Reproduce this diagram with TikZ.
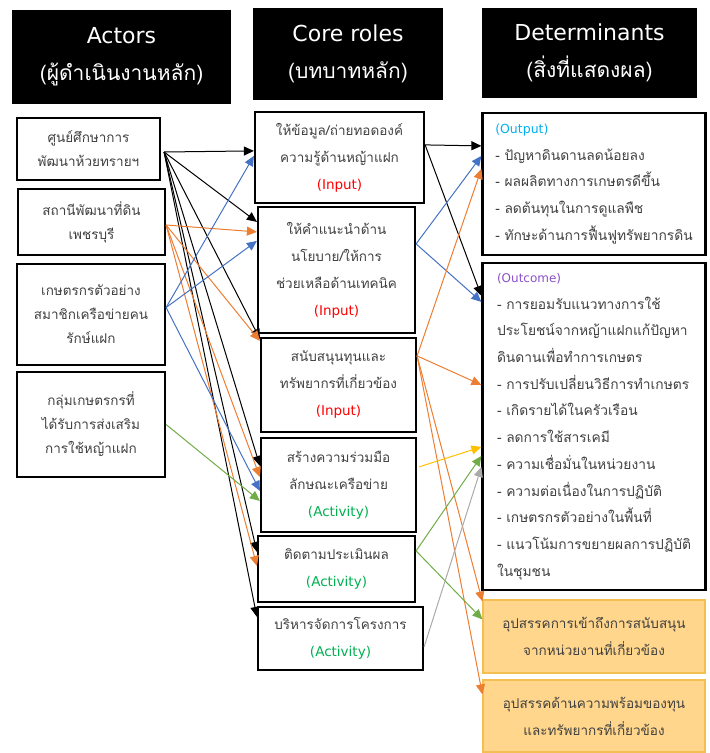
\documentclass[tikz,border=0pt]{standalone}
\usepackage{fontspec}
\setmainfont[Script=Thai]{Loma}
\newfontfamily\latin{DejaVu Sans}
\usetikzlibrary{arrows.meta}
\definecolor{txt}{RGB}{64,64,64}
\definecolor{cin}{RGB}{255,0,0}
\definecolor{cact}{RGB}{0,176,80}
\definecolor{cout}{RGB}{0,176,240}
\definecolor{cocm}{RGB}{140,80,200}
\definecolor{corg}{RGB}{237,125,49}
\definecolor{cblu}{RGB}{68,114,196}
\definecolor{cgrn}{RGB}{112,173,71}
\definecolor{cyel}{RGB}{255,192,0}
\definecolor{cgry}{RGB}{170,170,170}
\definecolor{obfill}{RGB}{255,214,140}
\definecolor{obdraw}{RGB}{245,190,80}
\newcommand{\lin}[2]{{\latin\fontsize{#1}{27}\selectfont #2}}
\tikzset{
  wh/.style 2 args={minimum width=#1pt, minimum height=#2pt},
  hdr/.style={fill=black, text=white, inner sep=0pt, align=center,
    font=\fontsize{21}{37}\selectfont},
  abox/.style={draw=black, line width=2.2pt, inner sep=0pt, align=center, text=txt,
    font=\fontsize{13.5}{24}\selectfont},
  cbox/.style={draw=black, line width=2.2pt, inner sep=0pt, align=center, text=txt,
    font=\fontsize{13.5}{27}\selectfont},
  dbox/.style={draw=black, line width=2.2pt, inner sep=0pt, align=left, text=txt,
    font=\fontsize{13.8}{26.7}\selectfont},
  obox/.style={draw=obdraw, fill=obfill, line width=1.2pt, inner sep=0pt, align=center,
    text=txt, font=\fontsize{13.5}{27}\selectfont},
  conn/.style={line width=1pt, -{Triangle[length=10pt,width=9pt]}},
}
\begin{document}
\begin{tikzpicture}[x=1pt,y=-1pt]
\useasboundingbox (0,0) rectangle (710,753);
% headers
\node[hdr, wh={219}{94}] (H1) at (121.5,57) {\lin{22}{Actors}\\(ผู้ดำเนินงานหลัก)};
\node[hdr, wh={190}{92}] (H2) at (348,54) {\lin{22}{Core roles}\\(บทบาทหลัก)};
\node[hdr, wh={215}{90}] (H3) at (589.5,53) {\lin{22}{Determinants}\\(สิ่งที่แสดงผล)};
% actors
\node[abox, wh={143}{62}] (A1) at (88.5,149) {ศูนย์ศึกษาการ\\พัฒนาห้วยทรายฯ};
\node[abox, wh={147}{66}] (A2) at (91.5,222) {สถานีพัฒนาที่ดิน\\เพชรบุรี};
\node[abox, wh={148}{101}] (A3) at (91,314.5) {เกษตรกรตัวอย่าง\\สมาชิกเครือข่ายคน\\รักษ์แฝก};
\node[abox, wh={148}{105}] (A4) at (91,424.5) {กลุ่มเกษตรกรที่\\ได้รับการส่งเสริม\\การใช้หญ้าแฝก};
% core roles
\node[cbox, wh={169}{91}] (C1) at (339.5,157.5) {ให้ข้อมูล/ถ่ายทอดองค์\\ความรู้ด้านหญ้าแฝก\\\textcolor{cin}{\lin{13.5}{(Input)}}};
\node[cbox, wh={157}{126}] (C2) at (336.5,270) {ให้คำแนะนำด้าน\\นโยบาย/ให้การ\\ช่วยเหลือด้านเทคนิค\\\textcolor{cin}{\lin{13.5}{(Input)}}};
\node[cbox, wh={155}{94}] (C3) at (338.5,385) {สนับสนุนทุนและ\\ทรัพยากรที่เกี่ยวข้อง\\\textcolor{cin}{\lin{13.5}{(Input)}}};
\node[cbox, wh={155}{94}] (C4) at (338.5,485) {สร้างความร่วมมือ\\ลักษณะเครือข่าย\\\textcolor{cact}{\lin{13.5}{(Activity)}}};
\node[cbox, wh={157}{66}] (C5) at (336.5,569) {ติดตามประเมินผล\\\textcolor{cact}{\lin{13.5}{(Activity)}}};
\node[cbox, wh={165}{63}] (C6) at (340.5,638.5) {บริหารจัดการโครงการ\\\textcolor{cact}{\lin{13.5}{(Activity)}}};
% determinants
\node[dbox, wh={223}{142}] (D1) at (594,184) {\textcolor{cout}{\lin{12.5}{(Output)}}\\- ปัญหาดินดานลดน้อยลง\\- ผลผลิตทางการเกษตรดีขึ้น\\- ลดต้นทุนในการดูแลพืช\\- ทักษะด้านการฟื้นฟูทรัพยากรดิน};
\node[dbox, wh={223}{327}] (D2) at (594,426.5) {\textcolor{cocm}{\lin{12}{(Outcome)}}\\- การยอมรับแนวทางการใช้\\ประโยชน์จากหญ้าแฝกแก้ปัญหา\\ดินดานเพื่อทำการเกษตร\\- การปรับเปลี่ยนวิธีการทำเกษตร\\- เกิดรายได้ในครัวเรือน\\- ลดการใช้สารเคมี\\- ความเชื่อมั่นในหน่วยงาน\\- ความต่อเนื่องในการปฏิบัติ\\- เกษตรกรตัวอย่างในพื้นที่\\- แนวโน้มการขยายผลการปฏิบัติ\\ในชุมชน};
\node[obox, wh={222}{73}] (D3) at (594,636.5) {อุปสรรคการเข้าถึงการสนับสนุน\\จากหน่วยงานที่เกี่ยวข้อง};
\node[obox, wh={222}{72}] (D4) at (594,716) {อุปสรรคด้านความพร้อมของทุน\\และทรัพยากรที่เกี่ยวข้อง};
% actor -> core
\draw[conn, black] ([xshift=3pt,yshift=-3pt]A1.east) -- ([yshift=-40pt]C1.north west);
\draw[conn, black] ([xshift=3pt,yshift=-3pt]A1.east) -- ([yshift=-16pt]C2.north west);
\draw[conn, black] ([xshift=3pt,yshift=-3pt]A1.east) -- ([yshift=-2pt]C3.north west);
\draw[conn, black] ([xshift=3pt,yshift=-3pt]A1.east) -- ([yshift=-29pt]C4.north west);
\draw[conn, black] ([xshift=3pt,yshift=-3pt]A1.east) -- ([yshift=-17pt]C5.north west);
\draw[conn, black] ([xshift=3pt,yshift=-3pt]A1.east) -- ([yshift=-11pt]C6.north west);
\draw[conn, corg] ([yshift=-3pt]A2.east) -- ([yshift=-26pt]C2.north west);
\draw[conn, corg] ([yshift=-3pt]A2.east) -- ([yshift=-4pt]C3.north west);
\draw[conn, corg] ([yshift=-3pt]A2.east) -- ([yshift=-40pt]C4.north west);
\draw[conn, corg] ([yshift=-3pt]A2.east) -- ([yshift=-31pt]C5.north west);
\draw[conn, cblu] ([yshift=7pt]A3.east) -- ([yshift=-45pt]C1.north west);
\draw[conn, cblu] ([yshift=7pt]A3.east) -- ([yshift=-35pt]C2.north west);
\draw[conn, cblu] ([yshift=7pt]A3.east) -- ([yshift=-54pt]C4.north west);
\draw[conn, cgrn] (A4.east) -- ([yshift=-64pt]C4.north west);
% core -> determinants
\draw[conn, black] ([yshift=-34pt]C1.north east) -- ([yshift=-34pt]D1.north west);
\draw[conn, black] ([yshift=-34pt]C1.north east) -- ([yshift=-34pt]D2.north west);
\draw[conn, cblu] ([yshift=-38pt]C2.north east) -- ([yshift=-44pt]D1.north west);
\draw[conn, cblu] ([yshift=-38pt]C2.north east) -- ([yshift=-40pt]D2.north west);
\draw[conn, corg] ([yshift=-19pt]C3.north east) -- ([yshift=-57pt]D1.north west);
\draw[conn, corg] ([yshift=-19pt]C3.north east) -- ([yshift=-123pt]D2.north west);
\draw[conn, corg] ([yshift=-19pt]C3.north east) -- ([yshift=-2pt]D3.north west);
\draw[conn, corg] ([yshift=-19pt]C3.north east) -- ([yshift=-15pt]D4.north west);
\draw[conn, cyel] ([xshift=2pt,yshift=-30pt]C4.north east) -- ([yshift=-185pt]D2.north west);
\draw[conn, cgrn] ([yshift=-16pt]C5.north east) -- ([yshift=-194pt]D2.north west);
\draw[conn, cgrn] ([yshift=-16pt]C5.north east) -- ([yshift=-20pt]D3.north west);
\draw[conn, cgry] ([yshift=-41pt]C6.north east) -- ([yshift=-205pt]D2.north west);
\end{tikzpicture}
\end{document}
